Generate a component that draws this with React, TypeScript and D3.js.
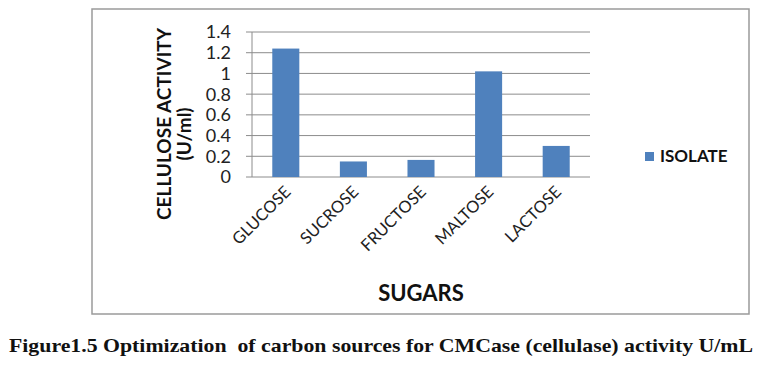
import React from "react";
import * as d3 from "d3";

const categories = ["GLUCOSE", "SUCROSE", "FRUCTOSE", "MALTOSE", "LACTOSE"];
const isolateValues = [1.24, 0.15, 0.165, 1.02, 0.3];
const yTicks = [0, 0.2, 0.4, 0.6, 0.8, 1, 1.2, 1.4];
const seriesName = "ISOLATE";
const yTitle = ["CELLULOSE ACTIVITY", "(U/ml)"];
const xTitle = "SUGARS";
const caption = "Figure1.5 Optimization  of carbon sources for CMCase (cellulase) activity U/mL";

export default function App() {
  const W = 768, H = 381;
  const left = 252, right = 590, top = 32, bottom = 177;
  const x = d3.scaleBand<string>().domain(categories).range([left, right]).paddingInner(0.6).paddingOuter(0.3);
  const y = d3.scaleLinear().domain([0, 1.4]).range([bottom, top]);
  const font = "Lato, 'Open Sans', sans-serif";
  const yMid = 124;
  return (
    <svg width={W} height={H} style={{ position: "absolute", left: 0, top: 0, background: "#fff" }}>
      <rect x={92} y={9} width={657} height={305} fill="#fff" stroke="#9a9a9a" strokeWidth={1.5} />
      {yTicks.map((t) => (
        <g key={t}>
          <line x1={left - 6} x2={right} y1={y(t)} y2={y(t)} stroke="#8c8c8c" strokeWidth={1} />
          <text x={231} y={y(t)} dy="0.36em" textAnchor="end" fontFamily={font} fontSize={18} fill="#222">
            {String(t)}
          </text>
        </g>
      ))}
      <line x1={left} x2={left} y1={top} y2={bottom} stroke="#8c8c8c" strokeWidth={1} />
      {categories.map((c, i) => (
        <rect key={c} x={x(c)} y={y(isolateValues[i])} width={x.bandwidth()} height={bottom - y(isolateValues[i])} fill="#4f81bd" />
      ))}
      {categories.map((c) => {
        const cx = (x(c) as number) + x.bandwidth() / 2 + 6;
        return (
          <text key={c} x={cx} y={193} textAnchor="end" fontFamily={font} fontSize={16.5} fill="#222" transform={`rotate(-45 ${cx} 193)`}>
            {c}
          </text>
        );
      })}
      <text x={0} y={0} transform={`translate(171 ${yMid}) rotate(-90)`} textAnchor="middle" fontFamily={font} fontWeight="bold" fontSize={19} fill="#111">
        {yTitle[0]}
      </text>
      <text x={0} y={0} transform={`translate(191 ${yMid + 10}) rotate(-90)`} textAnchor="middle" fontFamily={font} fontWeight="bold" fontSize={19} fill="#111">
        {yTitle[1]}
      </text>
      <text x={(left + right) / 2} y={301} textAnchor="middle" fontFamily={font} fontWeight="bold" fontSize={22} fill="#111">
        {xTitle}
      </text>
      <rect x={645} y={152} width={9} height={9} fill="#4f81bd" />
      <text x={660} y={162} fontFamily={font} fontWeight="bold" fontSize={17} fill="#111">
        {seriesName}
      </text>
      <text x={9} y={352} fontFamily="'Liberation Serif', 'Times New Roman', serif" fontWeight="bold" fontSize={19.5} fill="#111" textLength={744} lengthAdjust="spacingAndGlyphs" style={{ whiteSpace: "pre" }}>
        {caption}
      </text>
    </svg>
  );
}
